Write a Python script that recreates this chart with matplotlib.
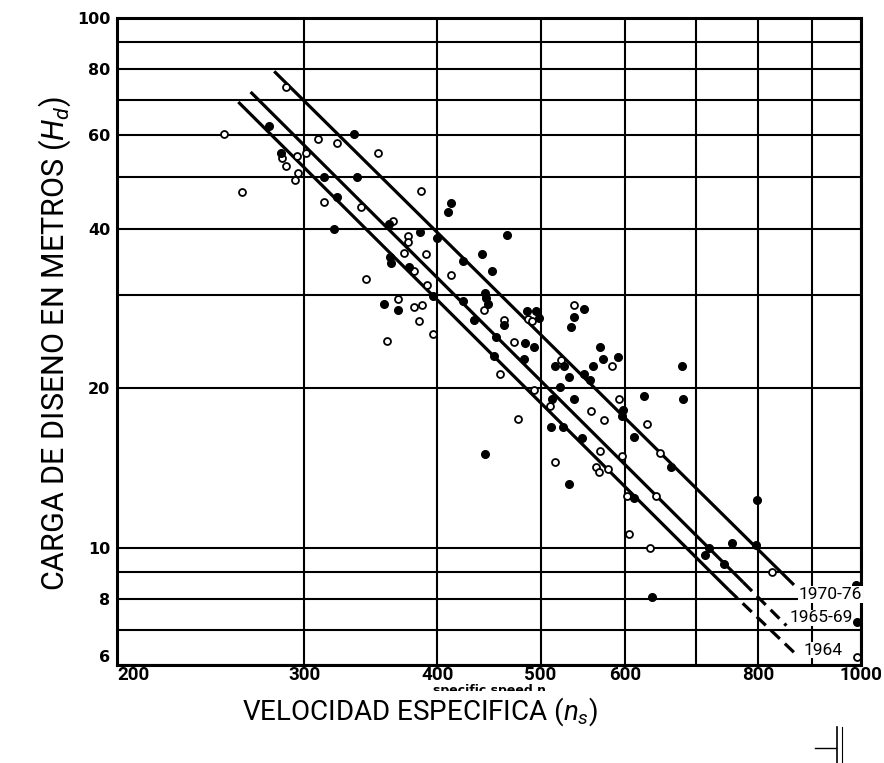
import matplotlib
matplotlib.use("Agg")
import matplotlib.pyplot as plt
from matplotlib.patches import Rectangle
from matplotlib.lines import Line2D
from matplotlib.ticker import NullFormatter

# specific speed ns and design head Hd (m)
open_ns = [288, 252, 309, 322, 352, 286, 288, 301, 295, 296, 294, 262, 386, 313, 339,
           363, 375, 375, 372, 390, 380, 343, 391, 412, 367, 380, 387, 384, 396, 359,
           442, 462, 472, 487, 491, 458, 522, 493, 510, 476, 538, 583, 516, 557, 573,
           568, 564, 567, 579, 593, 630, 596, 648, 603, 642, 605, 634, 825, 992]
open_hd = [74, 60.5, 59, 58, 55.7, 54.3, 52.5, 55.7, 54.8, 51, 49.4, 47, 47.2, 45, 44,
           41.4, 38.8, 37.8, 36, 35.9, 33.3, 32.2, 31.3, 32.7, 29.5, 28.5, 28.7, 26.8, 25.3, 24.5,
           28.1, 26.9, 24.4, 27, 26.8, 21.3, 22.6, 19.8, 18.5, 17.5, 28.7, 22, 14.5, 18.1, 17.4,
           15.2, 14.2, 13.9, 14.1, 19.1, 17.1, 14.9, 15.1, 12.5, 12.5, 10.6, 10, 9, 6.2]

filled_ns = [278, 334, 285, 313, 336, 322, 360, 320, 385, 400, 409, 412, 465, 361, 362,
             376, 440, 423, 450, 356, 367, 396, 423, 433, 443, 444, 446, 454, 462, 483,
             485, 495, 498, 493, 482, 452, 516, 512, 511, 526, 549, 538, 534, 569, 572,
             591, 560, 549, 532, 556, 521, 525, 532, 547, 597, 596, 626, 679, 680, 612,
             663, 612, 798, 720, 713, 757, 797, 744, 636, 990, 992, 538, 443]
filled_hd = [62.5, 60.3, 55.7, 50, 50, 46, 40.9, 40, 39.5, 38.5, 43, 44.8, 39, 35.3, 34.5,
             33.9, 35.9, 34.8, 33.3, 28.8, 28.1, 29.9, 29.2, 26.9, 30.3, 29.6, 28.8, 25, 26.3, 24.3,
             28, 28, 27.1, 23.9, 22.7, 23, 22, 19.1, 16.9, 22, 28.2, 27.3, 26.1, 23.9, 22.7,
             22.9, 22, 21.3, 21, 20.7, 20.1, 16.9, 13.2, 16.1, 18.2, 17.7, 19.3, 22, 19.1, 16.2,
             14.2, 12.4, 12.3, 10, 9.7, 10.2, 10.1, 9.3, 8.05, 8.5, 7.25, 19.1, 15.05]

# trend lines: start, end of solid part, end of dashed part
line_names = ["1970-76", "1965-69", "1964"]
line_ns = [[281, 865], [267, 775, 851], [260, 751, 865]]
line_hd = [[79.3, 8.5], [72.5, 8.6, 7.12], [69.4, 8.32, 6.34]]
label_ns = [874, 856, 884]
label_hd = [8.15, 7.37, 6.4]

x_ticks = [200, 300, 400, 500, 600, 800, 1000]
x_grid = [700, 900]
y_ticks = [6, 8, 10, 20, 40, 60, 80, 100]
y_grid = [7, 9, 30, 50, 70, 90]

plt.rcParams["lines.scale_dashes"] = False
plt.rcParams["mathtext.fontset"] = "custom"
plt.rcParams["mathtext.rm"] = "Roboto"
plt.rcParams["mathtext.it"] = "Roboto:italic"

fig = plt.figure(figsize=(8.84, 7.63), dpi=100)
ax = fig.add_axes([0.1324, 0.1284, 0.8416, 0.848])
ax.set_xscale("log")
ax.set_yscale("log")
ax.set_xlim(200, 1000)
ax.set_ylim(6, 100)

ax.set_xticks(x_ticks)
ax.set_xticklabels([str(v) for v in x_ticks], family="Roboto", fontweight="bold", fontsize=13.5)
ax.set_xticks(x_grid, minor=True)
ax.set_yticks(y_ticks)
ax.set_yticklabels([str(v) for v in y_ticks], family="DejaVu Sans", fontweight="bold", fontsize=11.5)
ax.set_yticks(y_grid, minor=True)
ax.xaxis.set_minor_formatter(NullFormatter())
ax.yaxis.set_minor_formatter(NullFormatter())
ax.tick_params(which="both", length=0)
ax.tick_params(axis="x", pad=1)
ax.tick_params(axis="y", pad=5)
ax.get_xticklabels()[0].set_horizontalalignment("left")
ax.get_yticklabels()[0].set_verticalalignment("bottom")

ax.grid(which="both", color="black", lw=1.5)
for s in ax.spines.values():
    s.set_linewidth(2.2)

# trend lines
for ns, hd in zip(line_ns, line_hd):
    ax.plot(ns[:2], hd[:2], color="black", lw=2.3, solid_capstyle="butt", zorder=2)
    if len(ns) > 2:
        ax.plot(ns[1:], hd[1:], color="black", lw=2.3, dashes=(9, 5), zorder=2)
for name, x, y in zip(line_names, label_ns, label_hd):
    ax.text(x, y, name, family="Roboto", fontsize=12.5, ha="left", va="center",
            bbox=dict(fc="white", ec="none", pad=0.5), zorder=4)

ax.plot(open_ns, open_hd, "o", ms=5, mfc="white", mec="black", mew=1.3, zorder=3)
ax.plot(filled_ns, filled_hd, "o", ms=5.5, mfc="black", mec="black", zorder=3)

# half-hidden printed caption under the tick labels
fig.text(0.554, 0.0955, "specific speed n", family="DejaVu Sans", fontsize=9,
         fontweight="bold", ha="center", va="center", zorder=3)
fig.patches.append(Rectangle((0.47, 0.083), 0.17, 0.0115, transform=fig.transFigure,
                             fc="white", ec="none", zorder=4))

# axis titles (hand lettered on the original)
fig.text(0.475, 0.067, r"VELOCIDAD ESPECIFICA ($n_s$)", family="Roboto",
         fontsize=20, ha="center", va="center", zorder=6)
fig.text(0.062, 0.55, r"CARGA DE DISENO EN METROS ($H_d$)", family="Roboto",
         fontsize=22, rotation=90, ha="center", va="center", zorder=6)

# stray marks at the bottom right of the scan
fig.add_artist(Line2D([0.922, 0.946], [0.02, 0.02], color="black", lw=1))
fig.add_artist(Line2D([0.947, 0.947], [0.0, 0.047], color="black", lw=1.2))
fig.add_artist(Line2D([0.953, 0.953], [0.0, 0.047], color="black", lw=0.8))

fig.savefig("out.png", dpi=100)
